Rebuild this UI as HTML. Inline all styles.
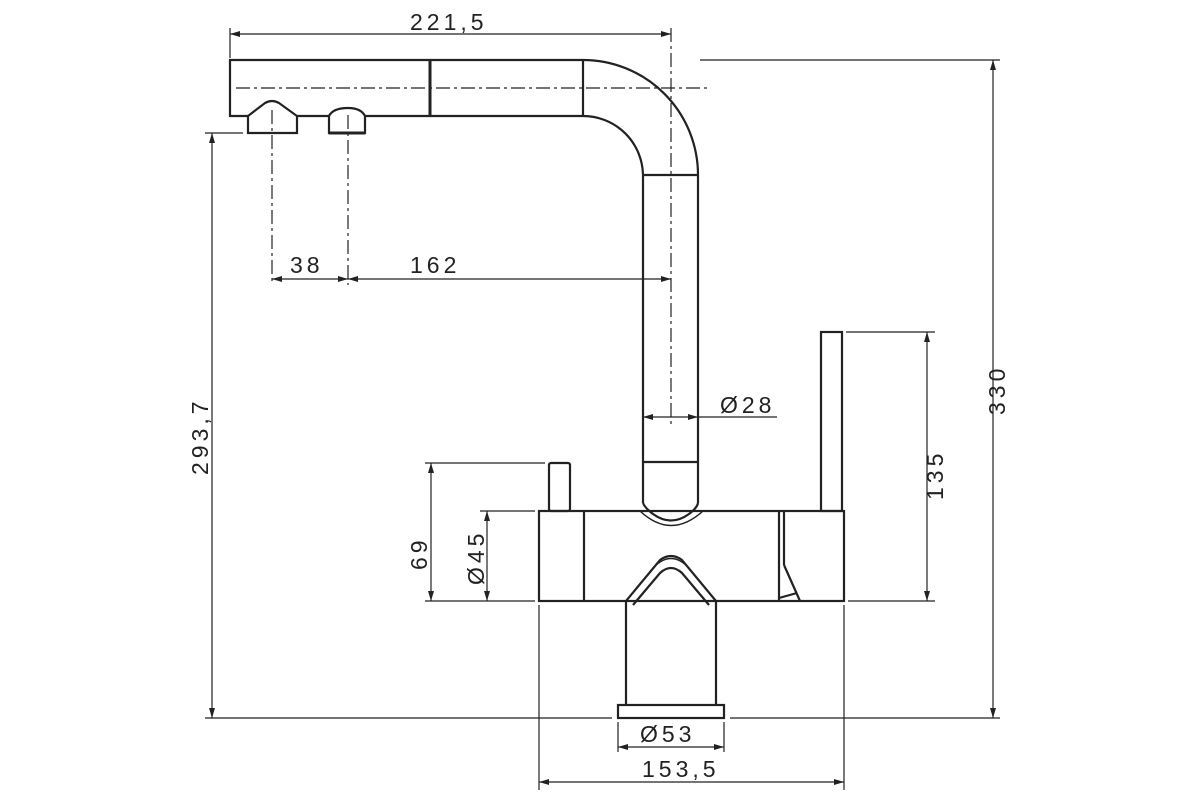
<!DOCTYPE html>
<html><head><meta charset="utf-8"><style>
html,body{margin:0;padding:0;background:#fff;}
svg{display:block;}
text{font-family:"Liberation Sans Narrow","Liberation Sans",sans-serif;font-size:23px;fill:#222;letter-spacing:4px;}
</style></head><body>
<svg width="1200" height="800" viewBox="0 0 1200 800" xmlns="http://www.w3.org/2000/svg">
<defs>
<marker id="a" viewBox="0 0 10 6" refX="10" refY="3" markerWidth="10" markerHeight="6" orient="auto-start-reverse" markerUnits="userSpaceOnUse"><path d="M0,0 L10,3 L0,6 z" fill="#222"/></marker>
</defs>
<g fill="none" stroke="#222" stroke-width="2.2">
<path d="M583,60 L230,60 L230,116 L248,116 M297,116 L329,116 M365,116 L583,116"/>
<line x1="430" y1="60" x2="430" y2="116" stroke-width="3"/>
<line x1="583" y1="60" x2="583" y2="116"/>
<path d="M583,60 A115,115 0 0 1 698,175 L698,503"/>
<path d="M583,116 A60,60 0 0 1 643,175 L643,503"/>
<line x1="643" y1="175" x2="698" y2="175"/>
<line x1="643" y1="462" x2="698" y2="462"/>
<path d="M248,133 L248,116 L265,103 Q272,99 279,103 L297,116 L297,133 Z"/>
<path d="M329,133 L329,116 Q333,108 348,108 Q361,108 365,116 L365,133 Z"/>
<line x1="329" y1="133" x2="365" y2="133" stroke-width="3"/>
<rect x="539" y="511" width="305" height="90"/>
<line x1="584" y1="511" x2="584" y2="601"/>
<line x1="779" y1="511" x2="779" y2="601"/>
<line x1="784" y1="511" x2="784" y2="565"/>
<path d="M784,565 L800,601 M779,598 L797,593"/>
<path d="M643,503 Q645,508 653,514 Q671,527 689,514 Q697,508 698,503"/>
<path d="M640,511 Q671,540 703,511" stroke-width="1.5"/>
<rect x="549" y="463" width="21" height="48" rx="2"/>
<rect x="821" y="332" width="21" height="179"/>
<path d="M626,705 L626,601 L660,560 Q671,552 682,560 L716,601 L716,705"/>
<path d="M626,601 L654,567 Q671,550 688,567 L716,601" stroke-width="1.5"/>
<path d="M633,605 L660,573 Q671,563 682,573 L709,605"/>
<rect x="618" y="705" width="106" height="13"/>
</g>
<g fill="none" stroke="#222" stroke-width="1.2">
<line x1="236" y1="88" x2="708" y2="88" stroke-dasharray="14,4,3,4"/>
<line x1="671" y1="28" x2="671" y2="425" stroke-dasharray="14,4,3,4"/>
<line x1="272" y1="110" x2="272" y2="285" stroke-dasharray="14,4,3,4"/>
<line x1="348" y1="115" x2="348" y2="285" stroke-dasharray="14,4,3,4"/>
<line x1="230" y1="28" x2="230" y2="58"/>
<line x1="700" y1="60" x2="1000" y2="60"/>
<line x1="205" y1="718" x2="612" y2="718"/>
<line x1="730" y1="718" x2="1000" y2="718"/>
<line x1="205" y1="133" x2="243" y2="133"/>
<line x1="425" y1="463" x2="545" y2="463"/>
<line x1="425" y1="601" x2="535" y2="601"/>
<line x1="480" y1="511" x2="535" y2="511"/>
<line x1="846" y1="332" x2="935" y2="332"/>
<line x1="848" y1="601" x2="935" y2="601"/>
<line x1="539" y1="605" x2="539" y2="790"/>
<line x1="844" y1="605" x2="844" y2="790"/>
<line x1="618" y1="722" x2="618" y2="752"/>
<line x1="724" y1="722" x2="724" y2="752"/>
<line x1="230" y1="34" x2="671" y2="34" marker-start="url(#a)" marker-end="url(#a)"/>
<line x1="993" y1="60" x2="993" y2="718" marker-start="url(#a)" marker-end="url(#a)"/>
<line x1="212" y1="133" x2="212" y2="718" marker-start="url(#a)" marker-end="url(#a)"/>
<line x1="272" y1="279" x2="348" y2="279" marker-start="url(#a)" marker-end="url(#a)"/>
<line x1="348" y1="279" x2="671" y2="279" marker-start="url(#a)" marker-end="url(#a)"/>
<line x1="643" y1="417" x2="698" y2="417" marker-start="url(#a)" marker-end="url(#a)"/>
<line x1="698" y1="417" x2="777" y2="417"/>
<line x1="431" y1="463" x2="431" y2="601" marker-start="url(#a)" marker-end="url(#a)"/>
<line x1="487" y1="511" x2="487" y2="601" marker-start="url(#a)" marker-end="url(#a)"/>
<line x1="927" y1="332" x2="927" y2="601" marker-start="url(#a)" marker-end="url(#a)"/>
<line x1="618" y1="747" x2="724" y2="747" marker-start="url(#a)" marker-end="url(#a)"/>
<line x1="539" y1="782" x2="844" y2="782" marker-start="url(#a)" marker-end="url(#a)"/>
</g>
<text x="410" y="30">221,5</text>
<text x="290" y="273">38</text>
<text x="410" y="273">162</text>
<text x="720" y="413">Ø28</text>
<text x="640" y="742">Ø53</text>
<text x="642" y="777">153,5</text>
<text transform="translate(208,475) rotate(-90)">293,7</text>
<text transform="translate(1005,415) rotate(-90)">330</text>
<text transform="translate(943,500) rotate(-90)">135</text>
<text transform="translate(427,570) rotate(-90)">69</text>
<text transform="translate(484,585) rotate(-90)">Ø45</text>
</svg>
</body></html>
